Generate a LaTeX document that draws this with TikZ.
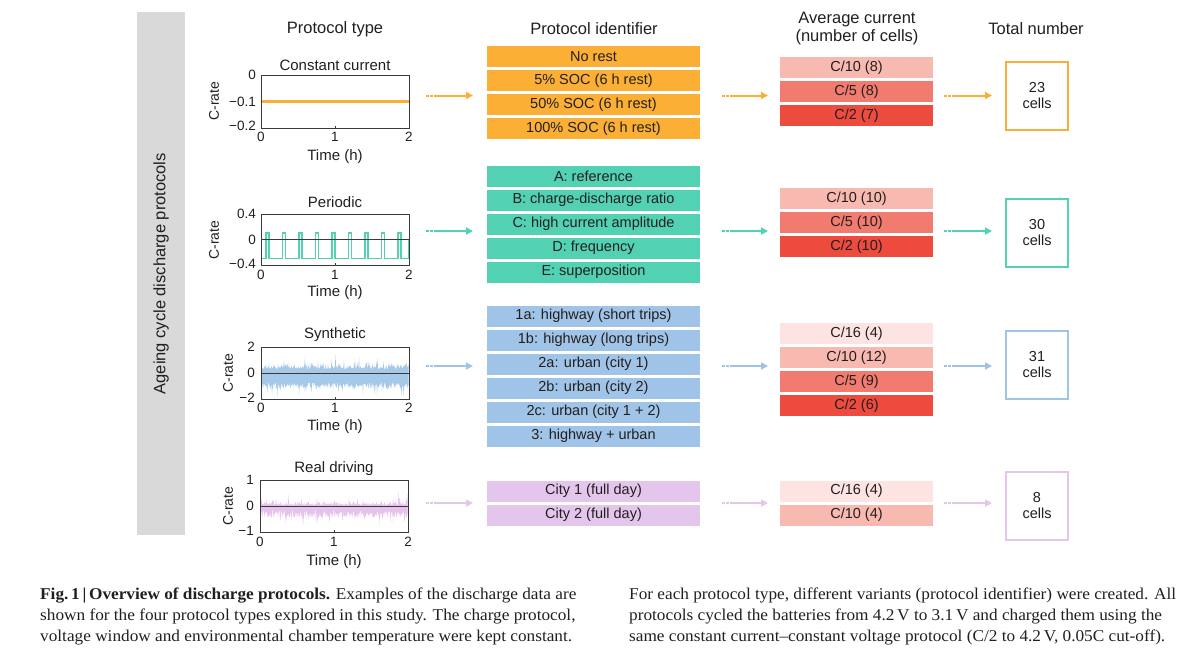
\documentclass[tikz,border=0pt]{standalone}
\usepackage{fontspec}
\setmainfont{Liberation Sans}
\newfontfamily\capfont[FakeStretch=1.045]{Liberation Serif}
\usetikzlibrary{arrows.meta}
\definecolor{txt}{HTML}{231F20}
\definecolor{banner}{HTML}{D9D9D9}
\definecolor{orng}{HTML}{FBB035}
\definecolor{tealc}{HTML}{52D2B3}
\definecolor{blu}{HTML}{9FC4E7}
\definecolor{bluf}{HTML}{A6C9EA}
\definecolor{lav}{HTML}{E4C5EC}
\definecolor{lavf}{HTML}{E5C3EC}
\definecolor{cA}{HTML}{FDE4E2}
\definecolor{cB}{HTML}{F8B9B1}
\definecolor{cC}{HTML}{F17B6F}
\definecolor{cD}{HTML}{EC4B3E}
\definecolor{axc}{HTML}{3A3A3A}
\tikzset{
  hdr/.style={font=\fontsize{16.5}{19}\selectfont, text=txt, align=center},
  ttl/.style={font=\fontsize{15}{17}\selectfont, text=txt},
  tk/.style={font=\fontsize{13.5}{15}\selectfont, text=txt, inner sep=0},
  ylab/.style={font=\fontsize{14}{16}\selectfont, text=txt, rotate=90},
  axbox/.style={draw=axc, line width=0.7, minimum width=148, minimum height=53, inner sep=0, anchor=north west},
  idbox/.style={minimum width=213, minimum height=21, inner sep=0, font=\fontsize{14.5}{16}\selectfont, text=txt},
  curbox/.style={minimum width=153, minimum height=21, inner sep=0, font=\fontsize{14.5}{16}\selectfont, text=txt},
  totbox/.style={draw, line width=1.2, fill=white, minimum width=62, minimum height=68, inner sep=0, align=center, font=\fontsize{14.5}{16}\selectfont, text=txt},
  flow/.style={line width=2, dash pattern=on 2.5pt off 1.6pt on 2.5pt off 1.6pt on 300pt off 0pt, -{Triangle[length=7pt,width=7pt]}},
  captxt/.style={anchor=north west, inner sep=0, align=left, text=txt, font=\capfont\fontsize{16.5}{21}\selectfont},
}
\begin{document}
\begin{tikzpicture}[x=1pt,y=-1pt]
\useasboundingbox (0,0) rectangle (1200,654);
\fill[white] (0,0) rectangle (1200,654);

% banner
\node[fill=banner, minimum width=48, minimum height=523, inner sep=0, anchor=north west] (banner) at (137,12) {};
\node[font=\fontsize{16.5}{19}\selectfont, text=txt, rotate=90] (bannertxt) at (banner.center) {Ageing cycle discharge protocols};

% headers
\node[hdr] (h1) at (335,29) {Protocol type};
\node[hdr] (h2) at (594,29) {Protocol identifier};
\node[hdr, font=\fontsize{16.5}{18}\selectfont] (h3) at (857,29) {Average current\\(number of cells)};
\node[hdr] (h4) at (1036,29) {Total number};

% ---------------- Plot 1: constant current
\node[ttl] (t1) at (335,65) {Constant current};
\node[axbox] (ax1) at (261,75) {};
\fill[orng] (261.5,100.3) rectangle (408.5,102.7);
\draw[axc, line width=0.6] (335,128) -- (335,126);
\node[tk, anchor=east] (y1a) at (256,75) {0};
\node[tk, anchor=east] (y1b) at (256,101.5) {−0.1};
\node[tk, anchor=east] (y1c) at (256,126) {−0.2};
\node[tk] (x1a) at (261,137) {0};
\node[tk] (x1b) at (335,137) {1};
\node[tk] (x1c) at (409,137) {2};
\node[ttl] (xl1) at (335,157) {Time (h)};
\node[ylab] (yl1) at (214,101) {C-rate};

% ---------------- Plot 2: periodic
\node[ttl] (t2) at (335,202) {Periodic};
\draw[tealc, line width=1.6] (261.5,239.5) -- (261.5,258.6)
  \foreach \p in {266,282.5,299,315.5,332,348.5,365,381.5,398} {
    -- (\p,258.6) -- (\p,233.1) -- (\p+3,233.1) -- (\p+3,258.6)
  } -- (408.5,258.6) -- (408.5,239.5);
\draw[axc, line width=0.8] (261,239.5) -- (409,239.5);
\node[axbox, minimum height=51] (ax2) at (261,214) {};
\draw[axc, line width=0.6] (335,265) -- (335,263);
\node[tk, anchor=east] (y2a) at (256,214) {0.4};
\node[tk, anchor=east] (y2b) at (256,239.5) {0};
\node[tk, anchor=east] (y2c) at (256,264) {−0.4};
\node[tk] (x2a) at (261,275) {0};
\node[tk] (x2b) at (335,275) {1};
\node[tk] (x2c) at (409,275) {2};
\node[ttl] (xl2) at (335,293) {Time (h)};
\node[ylab] (yl2) at (214,240) {C-rate};

% ---------------- Plot 3: synthetic
\node[ttl] (t3) at (335,335) {Synthetic};
\pgfmathsetseed{11}
\fill[bluf] (261.5,373) \foreach \x in {261.5,262,...,408.5} { -- (\x,{373-(4+8*rnd*rnd+9*(rnd>0.9)*rnd)}) } -- (408.5,373) -- cycle;
\fill[bluf] (261.5,373) \foreach \x in {261.5,262,...,408.5} { -- (\x,{373+(9+7*rnd+8*(rnd>0.9)*rnd)}) } -- (408.5,373) -- cycle;
\draw[axc, line width=0.8] (261,373) -- (409,373);
\node[axbox, minimum height=52] (ax3) at (261,347) {};
\draw[axc, line width=0.6] (335,399) -- (335,397);
\node[tk, anchor=east] (y3a) at (255,347) {2};
\node[tk, anchor=east] (y3b) at (255,373) {0};
\node[tk, anchor=east] (y3c) at (255,398) {−2};
\node[tk] (x3a) at (261,408) {0};
\node[tk] (x3b) at (335,408) {1};
\node[tk] (x3c) at (409,408) {2};
\node[ttl] (xl3) at (335,427) {Time (h)};
\node[ylab] (yl3) at (228,373) {C-rate};

% ---------------- Plot 4: real driving
\node[ttl] (t4) at (334,469) {Real driving};
\pgfmathsetseed{5}
\fill[lavf] (260.5,506) \foreach \x in {260.5,261,...,407.5} { -- (\x,{506-(1+4*rnd*rnd+8*(rnd>0.88)*rnd+14*(\x>395)*(rnd>0.75)*rnd)}) } -- (407.5,506) -- cycle;
\fill[lavf] (260.5,506) \foreach \x in {260.5,261,...,407.5} { -- (\x,{506+(4+8*rnd+9*(rnd>0.85)*rnd)}) } -- (407.5,506) -- cycle;
\draw[axc, line width=0.8] (260,506) -- (408,506);
\node[axbox, minimum height=52] (ax4) at (260,480) {};
\draw[axc, line width=0.6] (334,532) -- (334,530);
\node[tk, anchor=east] (y4a) at (254,480) {1};
\node[tk, anchor=east] (y4b) at (254,506) {0};
\node[tk, anchor=east] (y4c) at (254,531) {−1};
\node[tk] (x4a) at (260,542) {0};
\node[tk] (x4b) at (334,542) {1};
\node[tk] (x4c) at (408,542) {2};
\node[ttl] (xl4) at (334,562) {Time (h)};
\node[ylab] (yl4) at (228,506) {C-rate};

% ---------------- Protocol identifiers
\node[idbox, fill=orng] (o1) at (593.5,56.5) {No rest};
\node[idbox, fill=orng] (o2) at (593.5,80.5) {5\% SOC (6 h rest)};
\node[idbox, fill=orng] (o3) at (593.5,104.5) {50\% SOC (6 h rest)};
\node[idbox, fill=orng] (o4) at (593.5,128.5) {100\% SOC (6 h rest)};

\node[idbox, fill=tealc] (g1) at (593.5,176) {A: reference};
\node[idbox, fill=tealc] (g2) at (593.5,200) {B: charge-discharge ratio};
\node[idbox, fill=tealc] (g3) at (593.5,224) {C: high current amplitude};
\node[idbox, fill=tealc] (g4) at (593.5,248) {D: frequency};
\node[idbox, fill=tealc] (g5) at (593.5,272) {E: superposition};

\node[idbox, fill=blu] (b1) at (593.5,316) {1a: highway (short trips)};
\node[idbox, fill=blu] (b2) at (593.5,340) {1b: highway (long trips)};
\node[idbox, fill=blu] (b3) at (593.5,364) {2a: urban (city 1)};
\node[idbox, fill=blu] (b4) at (593.5,388) {2b: urban (city 2)};
\node[idbox, fill=blu] (b5) at (593.5,412) {2c: urban (city 1 + 2)};
\node[idbox, fill=blu] (b6) at (593.5,436) {3: highway + urban};

\node[idbox, fill=lav] (l1) at (593.5,491) {City 1 (full day)};
\node[idbox, fill=lav] (l2) at (593.5,515) {City 2 (full day)};

% ---------------- Average current
\node[curbox, fill=cB] (oc1) at (856.5,67.5) {C/10 (8)};
\node[curbox, fill=cC] (oc2) at (856.5,91.5) {C/5 (8)};
\node[curbox, fill=cD] (oc3) at (856.5,115.5) {C/2 (7)};

\node[curbox, fill=cB] (gc1) at (856.5,198.5) {C/10 (10)};
\node[curbox, fill=cC] (gc2) at (856.5,222.5) {C/5 (10)};
\node[curbox, fill=cD] (gc3) at (856.5,246.5) {C/2 (10)};

\node[curbox, fill=cA] (bc1) at (856.5,333.5) {C/16 (4)};
\node[curbox, fill=cB] (bc2) at (856.5,357.5) {C/10 (12)};
\node[curbox, fill=cC] (bc3) at (856.5,381.5) {C/5 (9)};
\node[curbox, fill=cD] (bc4) at (856.5,405.5) {C/2 (6)};

\node[curbox, fill=cA] (lc1) at (856.5,491) {C/16 (4)};
\node[curbox, fill=cB] (lc2) at (856.5,515) {C/10 (4)};

% ---------------- Totals
\node[totbox, draw=orng] (ot) at (1037,96) {23\\cells};
\node[totbox, draw=tealc] (gt) at (1037,233) {30\\cells};
\node[totbox, draw=blu] (bt) at (1037,365) {31\\cells};
\node[totbox, draw=lav] (lt) at (1037,506) {8\\cells};

% ---------------- Arrows
\foreach \n/\yy/\c in {o/95.5/orng, g/231/tealc, b/366/blu, l/503/lav} {
  \coordinate (\n s1) at (426,\yy);
  \coordinate (\n e1) at (473,\yy);
  \coordinate (\n s2) at (722,\yy);
  \coordinate (\n e2) at (768,\yy);
  \coordinate (\n s3) at (944,\yy);
  \coordinate (\n e3) at (992,\yy);
  \draw[flow, \c] (\n s1) -- (\n e1);
  \draw[flow, \c] (\n s2) -- (\n e2);
  \draw[flow, \c] (\n s3) -- (\n e3);
}

% ---------------- Caption
\node[captxt] (cap1) at (40,588)
{\textbf{Fig.\,1\,|\,Overview of discharge protocols.} Examples of the discharge data are\\
shown for the four protocol types explored in this study. The charge protocol,\\
voltage window and environmental chamber temperature were kept constant.};
\node[captxt] (cap2) at (629,588)
{For each protocol type, different variants (protocol identifier) were created. All\\
protocols cycled the batteries from 4.2\,V to 3.1\,V and charged them using the\\
same constant current–constant voltage protocol (C/2 to 4.2\,V, 0.05C cut-off).};
\end{tikzpicture}
\end{document}
